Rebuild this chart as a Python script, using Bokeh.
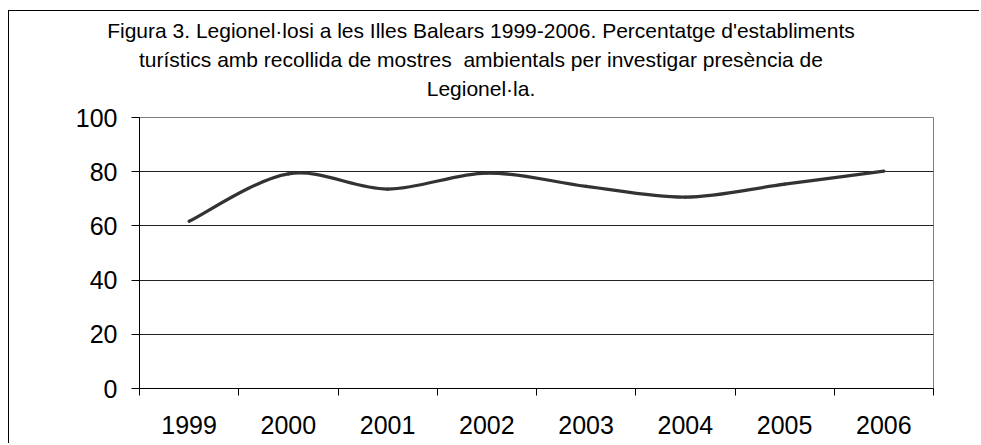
from bokeh.plotting import figure
from bokeh.models import FixedTicker, Div
from bokeh.layouts import column
from bokeh.embed import file_html
from bokeh.resources import INLINE

years = ["1999", "2000", "2001", "2002", "2003", "2004", "2005", "2006"]
values = [61.7, 79.2, 73.6, 79.5, 74.6, 70.6, 75.4, 80.2]
y_ticks = [0, 20, 40, 60, 80, 100]
title_lines = [
    "Figura 3. Legionel\u00b7losi a les Illes Balears 1999-2006. Percentatge d'establiments",
    "tur\u00edstics amb recollida de mostres&nbsp; ambientals per investigar pres\u00e8ncia de",
    "Legionel\u00b7la.",
]

FONT = "Liberation Sans"

n = len(years)
xs = [i + 0.5 for i in range(n)]

title_html = (
    '<div style="width:944px; text-align:center; font-family:\'Liberation Sans\'; '
    'font-size:21px; line-height:29px; color:#000; white-space:nowrap; padding-top:5px;">'
    + "<br>".join(title_lines) + "</div>"
)
div = Div(text=title_html, width=970, height=90, margin=0)

p = figure(width=970, height=342, output_backend="svg", toolbar_location=None,
           x_range=(0, n), y_range=(0, 100), margin=0,
           min_border_left=130, min_border_right=46, min_border_top=16, min_border_bottom=55)

# axes
p.yaxis.ticker = FixedTicker(ticks=y_ticks)
p.yaxis.major_label_text_font = FONT
p.yaxis.major_label_text_font_size = "25px"
p.yaxis.major_label_text_color = "#000"
p.yaxis.axis_line_color = "#000"
p.yaxis.major_tick_line_color = "#000"
p.yaxis.major_tick_out = 8
p.yaxis.major_tick_in = 0
p.yaxis.minor_tick_line_color = None
p.yaxis.major_label_standoff = 14

p.xaxis.ticker = FixedTicker(ticks=xs, minor_ticks=list(range(n + 1)))
p.xaxis.major_label_overrides = {x: y for x, y in zip(xs, years)}
p.xaxis.major_label_text_font = FONT
p.xaxis.major_label_text_font_size = "25px"
p.xaxis.major_label_text_color = "#000"
p.xaxis.axis_line_color = "#000"
p.xaxis.major_tick_line_color = None
p.xaxis.minor_tick_line_color = "#000"
p.xaxis.minor_tick_out = 7
p.xaxis.minor_tick_in = 0
p.xaxis.major_label_standoff = 20

p.xgrid.grid_line_color = None
p.ygrid.ticker = FixedTicker(ticks=y_ticks)
p.ygrid.grid_line_color = "#222222"
p.ygrid.grid_line_width = 1
p.outline_line_color = "#808080"
p.outline_line_width = 1

# smoothed line through data points (Catmull-Rom style Bezier)
pts = list(zip(xs, values))
x0s, y0s, x1s, y1s, cx0, cy0, cx1, cy1 = [], [], [], [], [], [], [], []
for i in range(n - 1):
    pm = pts[i - 1] if i > 0 else pts[i]
    pa = pts[i]
    pb = pts[i + 1]
    pn = pts[i + 2] if i + 2 < n else pts[i + 1]
    x0s.append(pa[0]); y0s.append(pa[1])
    x1s.append(pb[0]); y1s.append(pb[1])
    cx0.append(pa[0] + (pb[0] - pm[0]) / 6); cy0.append(pa[1] + (pb[1] - pm[1]) / 6)
    cx1.append(pb[0] - (pn[0] - pa[0]) / 6); cy1.append(pb[1] - (pn[1] - pa[1]) / 6)

p.bezier(x0=x0s, y0=y0s, x1=x1s, y1=y1s, cx0=cx0, cy0=cy0, cx1=cx1, cy1=cy1,
         line_color="#333333", line_width=3.2, line_cap="round")

layout = column(div, p, margin=(10, 0, 0, 8),
                styles={"border-top": "1px solid #000", "border-left": "1px solid #000"})

open("out.html", "w").write(file_html(layout, INLINE))
